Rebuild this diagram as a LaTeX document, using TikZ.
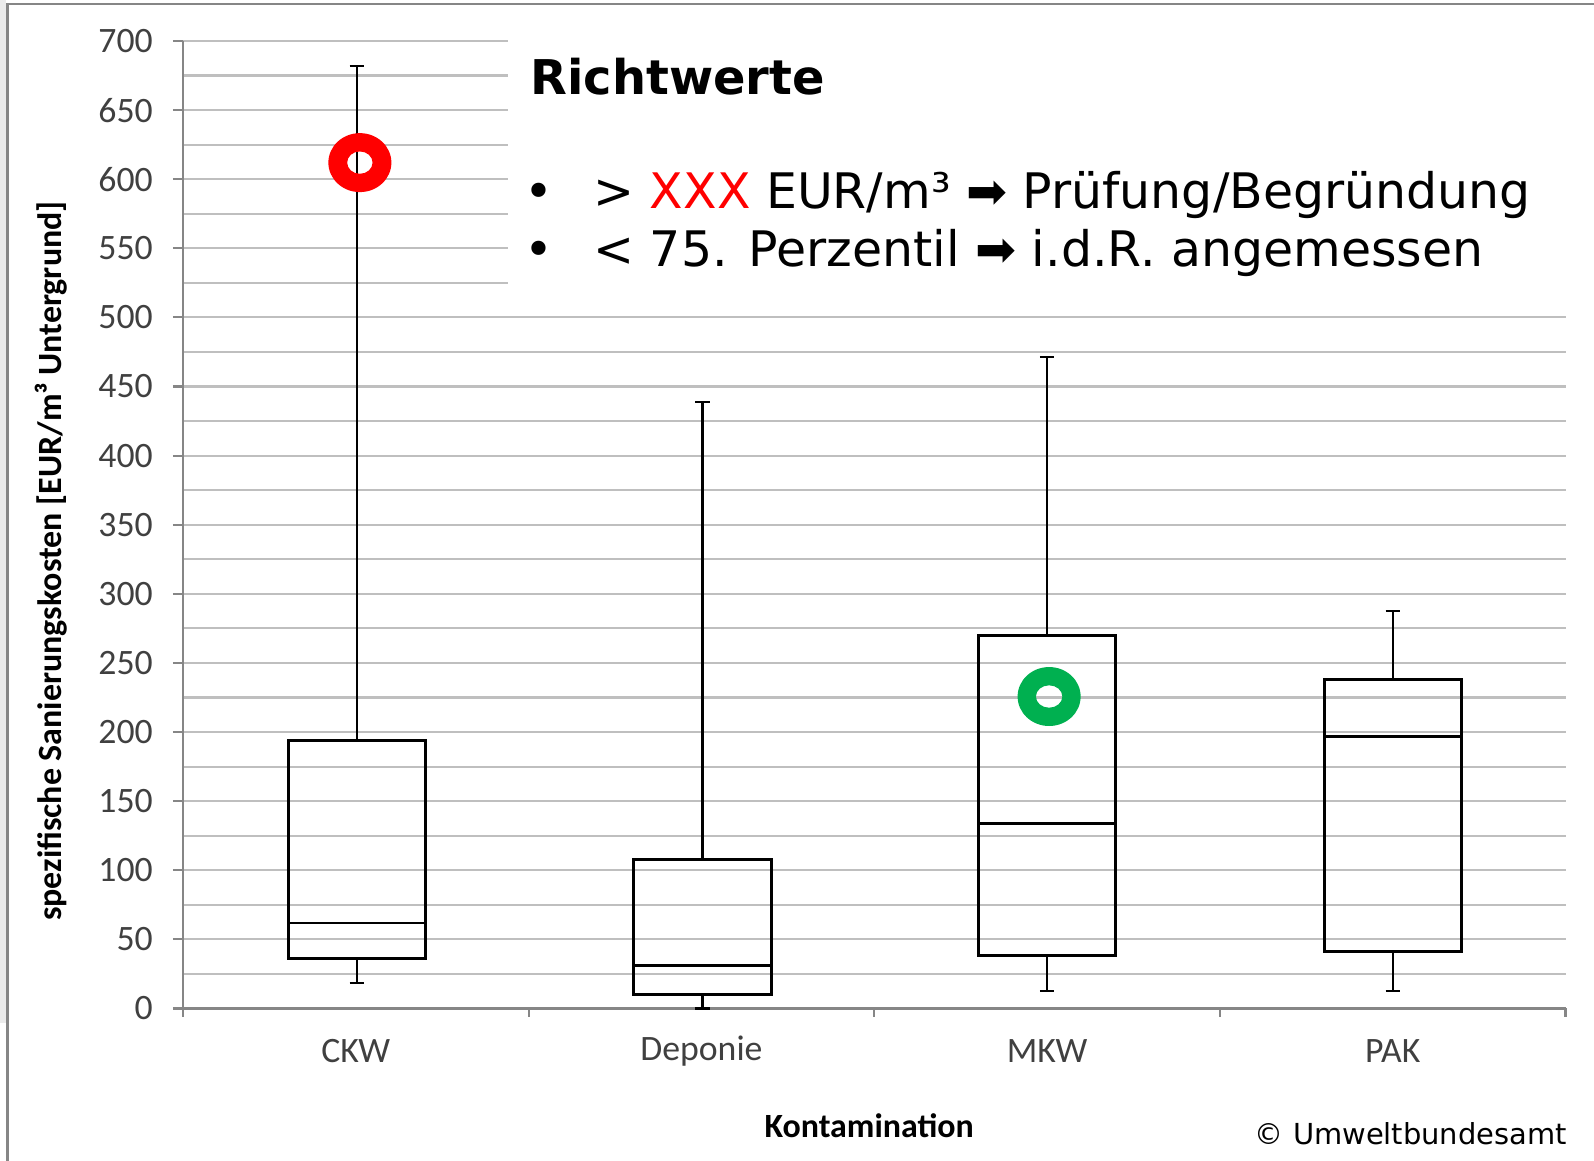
\documentclass[tikz,border=0pt]{standalone}
\usepackage{fontspec}
\setmainfont{DejaVu Sans}
\newfontfamily\calibri{Carlito}
\usepackage{xcolor}
\usetikzlibrary{positioning}
\definecolor{gridgray}{RGB}{191,191,191}
\definecolor{axisgray}{RGB}{134,134,134}
\definecolor{ticktext}{RGB}{64,64,64}
\definecolor{okgreen}{RGB}{0,176,80}
\newcommand{\heavyarrow}{➡}

\begin{document}
\begin{tikzpicture}[
    grid/.style = {draw=gridgray, line width=0.6pt},
    axis/.style = {draw=axisgray, line width=0.6pt},
    box/.style = {draw=black, line width=0.8pt},
    whisker/.style = {draw=black, line width=0.6pt},
    tick/.style = {font=\calibri\fontsize{10}{12}\selectfont, text=ticktext, inner sep=0pt},
    axtitle/.style = {font=\calibri\bfseries\fontsize{9.5}{11}\selectfont, inner sep=0pt},
    textline/.style = {anchor=base west, inner sep=0pt, font=\fontsize{13.7}{16}\selectfont}
  ]
  \useasboundingbox (0,0) rectangle (15.68,11.42);
  % frame
  \fill[black!8] (0,1.36) rectangle (0.06,11.42);
  \draw[axisgray, line width=0.8pt] (0.07,0) -- (0.07,11.38) -- (15.68,11.38);

  \begin{scope}[yshift=1.5cm, y=0.0136cm]
    \foreach \v in {25,50,...,700}
      \draw[grid] (1.80,\v) -- (15.40,\v);
    \fill[white] (5.00,512) rectangle (15.68,720);

    \draw[axis] (1.80,0) -- (1.80,700);
    \draw[axis] (1.80,0) -- (15.40,0);
    \foreach \v in {0,50,...,700} {
      \draw[axis] (1.70,\v) -- (1.80,\v);
      \node[tick, anchor=east] (t\v) at (1.51,\v) {\v};
    }
    \foreach \x in {1.80,5.20,8.60,12.00,15.40}
      \draw[axis] (\x,0) -- (\x,-6);

    \foreach \c/\name [count=\i] in {3.50/CKW, 6.90/Deponie, 10.30/MKW, 13.70/PAK}
      \node[tick] (cat\i) at (\c,-31) {\name};

    % boxes: center/low/q1/median/q3/high
    \foreach \c/\lo/\qa/\me/\qc/\hi in {3.51/18.4/36/61.8/194/681.6,
        6.91/0/10.3/30.9/108/439, 10.30/12.5/38.2/133.8/270/471.3,
        13.70/12.5/41.2/197/238.2/287.5} {
      \draw[whisker] (\c,\qc) -- (\c,\hi) (\c-0.07,\hi) -- (\c+0.07,\hi);
      \draw[whisker] (\c,\qa) -- (\c,\lo) (\c-0.07,\lo) -- (\c+0.07,\lo);
      \draw[box] (\c-0.675,\qa) rectangle (\c+0.675,\qc);
      \draw[box] (\c-0.675,\me) -- (\c+0.675,\me);
    }

    \coordinate (redmark) at (3.54,612);
    \coordinate (greenmark) at (10.32,225.7);
    \fill[red, even odd rule] (redmark) ellipse [x radius=0.31cm, y radius=0.29cm]
      (redmark) ellipse [x radius=0.125cm, y radius=0.11cm];
    \fill[okgreen, even odd rule] (greenmark) ellipse [x radius=0.31cm, y radius=0.29cm]
      (greenmark) ellipse [x radius=0.13cm, y radius=0.11cm];
  \end{scope}

  \node[axtitle, rotate=90] (ytitle) at (0.50,5.90) {spezifische Sanierungskosten [EUR/m³ Untergrund]};
  \node[axtitle] (xtitle) at (8.55,0.35) {Kontamination};

  \node[textline, font=\fontsize{13.4}{16}\selectfont\bfseries] (head) at (5.21,10.49) {Richtwerte};
  \node[textline] (line1) at (5.15,9.37) {\makebox[0.68cm][l]{•}> \textcolor{red}{XXX} EUR/m³ \heavyarrow{} Prüfung/Begründung};
  \node[textline] (line2) at ([yshift=-0.57cm]line1.base west) {\makebox[0.68cm][l]{•}< 75. Perzentil \heavyarrow{} i.d.R. angemessen};

  \node[anchor=base east, inner sep=0pt, font=\fontsize{8.1}{10}\selectfont] (copy) at (15.42,0.16) {© Umweltbundesamt};
\end{tikzpicture}
\end{document}
